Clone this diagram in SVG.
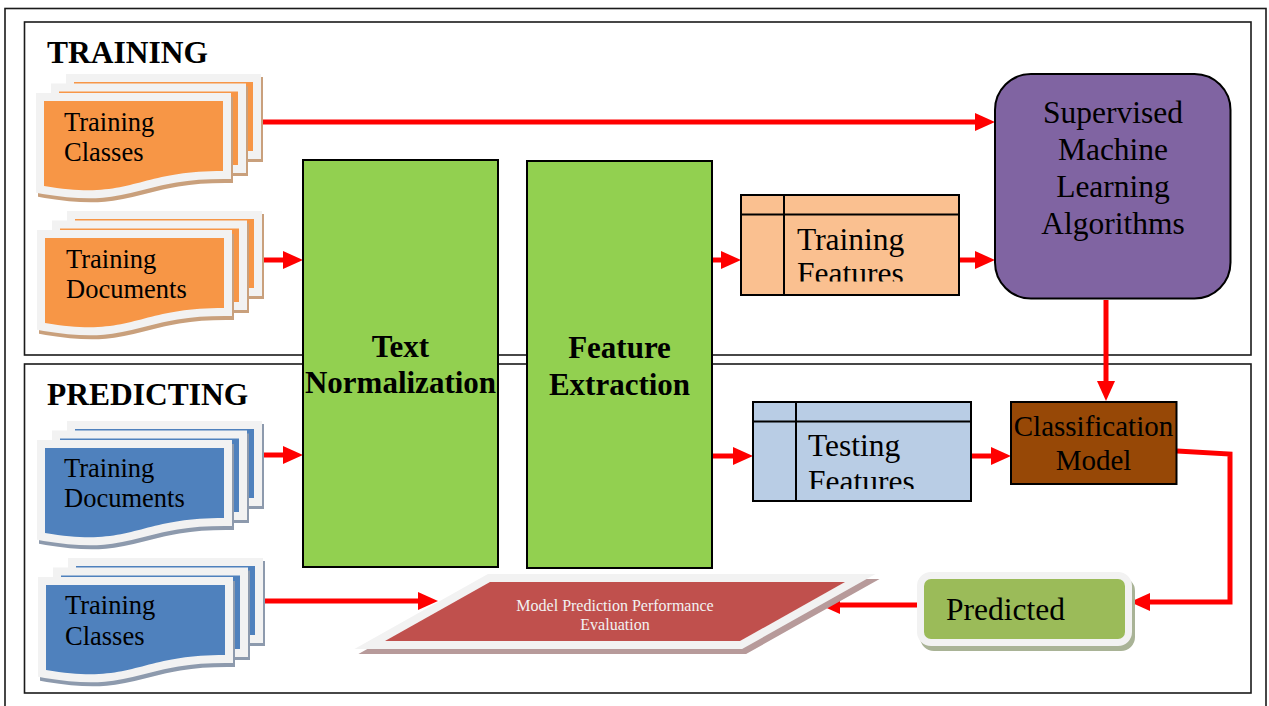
<svg xmlns="http://www.w3.org/2000/svg" xmlns:xlink="http://www.w3.org/1999/xlink" width="1269" height="706" viewBox="0 0 1269 706">
  <style>
    .frame { fill: none; stroke: #1a1a1a; stroke-width: 1.6; }
    .title { font-family: "Liberation Serif", "Times New Roman", serif; font-weight: bold; font-size: 31.5px; fill: #000; }
    .t { font-family: "Liberation Serif", "Times New Roman", serif; fill: #000; }
    .doc-t { font-size: 26.5px; }
    .big { font-size: 31.5px; }
    .mid { font-size: 29px; }
    .bold { font-weight: bold; font-size: 31px; }
    .light { font-family: "Liberation Serif", "Times New Roman", serif; font-size: 16px; fill: #f2f2f2; }
    .orange .pg { fill: #f79646; stroke: #f2f2f2; stroke-width: 16; paint-order: stroke; stroke-linejoin: miter; }
    .orange .sh { fill: #c9a07c; stroke: #c9a07c; stroke-width: 16; stroke-linejoin: miter; }
    .blue .pg { fill: #4f81bd; stroke: #f2f2f2; stroke-width: 16; paint-order: stroke; stroke-linejoin: miter; }
    .blue .sh { fill: #8d9aad; stroke: #8d9aad; stroke-width: 16; stroke-linejoin: miter; }
    .box { stroke: #000; stroke-width: 2; }
    .conn { fill: none; stroke: #ff0000; stroke-width: 5; stroke-linejoin: miter; marker-end: url(#ah); }
  </style>
  <defs>
    <marker id="ah" markerUnits="userSpaceOnUse" markerWidth="20" markerHeight="18" refX="0" refY="9" orient="auto" overflow="visible">
      <path d="M0,0 L20,9 L0,18 Z" fill="#ff0000"/>
    </marker>
    <!-- stacked document sheets, local origin = top-left of front sheet fill -->
    <rect id="docBack" x="30" y="-19" width="179" height="69"/>
    <rect id="docMid" x="15" y="-9.5" width="179" height="73.5"/>
    <path id="docFront" d="M0,0 H179 V70 C89.5,70 89.5,100 0,85 Z"/>
    <clipPath id="clipTrainF"><rect x="741" y="214" width="218" height="67.5"/></clipPath>
    <clipPath id="clipTestF"><rect x="753" y="421" width="218" height="68"/></clipPath>
  </defs>

  <!-- page frame and section panels -->
  <rect class="frame" x="5" y="8.5" width="1261" height="710"/>
  <rect class="frame" x="24.5" y="22" width="1226.5" height="333"/>
  <rect class="frame" x="24.5" y="364" width="1226.5" height="329"/>
  <text class="title" x="47" y="63">TRAINING</text>
  <text class="title" x="47" y="405">PREDICTING</text>

  <!-- connectors -->
  <g id="connectors">
    <path class="conn" d="M260,122 H975"/>
    <path class="conn" d="M262,260 H283"/>
    <path class="conn" d="M712,260 H721"/>
    <path class="conn" d="M959,260 H975"/>
    <path class="conn" d="M1106,300 V381"/>
    <path class="conn" d="M262,455 H283"/>
    <path class="conn" d="M712,456 H733"/>
    <path class="conn" d="M971,456 H991"/>
    <path class="conn" d="M1177,451 L1230,454 V602 H1150"/>
    <path class="conn" d="M917,605 H840"/>
    <path class="conn" d="M265,601 H418"/>
  </g>

  <!-- document stacks -->
  <g id="train-classes" class="orange" transform="translate(44,101)">
    <use href="#docBack" class="sh" x="2" y="3"/><use href="#docBack" class="pg"/>
    <use href="#docMid" class="sh" x="2" y="3"/><use href="#docMid" class="pg"/>
    <use href="#docFront" class="sh" x="2" y="4"/><use href="#docFront" class="pg"/>
    <text class="t doc-t" x="20" y="30">Training</text>
    <text class="t doc-t" x="20" y="60">Classes</text>
  </g>
  <g id="train-documents" class="orange" transform="translate(45,238)">
    <use href="#docBack" class="sh" x="2" y="3"/><use href="#docBack" class="pg"/>
    <use href="#docMid" class="sh" x="2" y="3"/><use href="#docMid" class="pg"/>
    <use href="#docFront" class="sh" x="2" y="4"/><use href="#docFront" class="pg"/>
    <text class="t doc-t" x="21" y="30">Training</text>
    <text class="t doc-t" x="21" y="60">Documents</text>
  </g>
  <g id="predict-documents" class="blue" transform="translate(45,448)">
    <use href="#docBack" class="sh" x="2" y="3"/><use href="#docBack" class="pg"/>
    <use href="#docMid" class="sh" x="2" y="3"/><use href="#docMid" class="pg"/>
    <use href="#docFront" class="sh" x="2" y="4"/><use href="#docFront" class="pg"/>
    <text class="t doc-t" x="19" y="29">Training</text>
    <text class="t doc-t" x="19" y="59">Documents</text>
  </g>
  <g id="predict-classes" class="blue" transform="translate(46,585)">
    <use href="#docBack" class="sh" x="2" y="3"/><use href="#docBack" class="pg"/>
    <use href="#docMid" class="sh" x="2" y="3"/><use href="#docMid" class="pg"/>
    <use href="#docFront" class="sh" x="2" y="4"/><use href="#docFront" class="pg"/>
    <text class="t doc-t" x="19" y="29">Training</text>
    <text class="t doc-t" x="19" y="60">Classes</text>
  </g>

  <!-- processing stages -->
  <g id="text-normalization">
    <rect class="box" x="303" y="160" width="195" height="407" fill="#92d050"/>
    <text class="t bold" x="400.5" y="357" text-anchor="middle">Text</text>
    <text class="t bold" x="400.5" y="393" text-anchor="middle">Normalization</text>
  </g>
  <g id="feature-extraction">
    <rect class="box" x="527" y="161" width="185" height="407" fill="#92d050"/>
    <text class="t bold" x="619.5" y="358" text-anchor="middle">Feature</text>
    <text class="t bold" x="619.5" y="395" text-anchor="middle">Extraction</text>
  </g>

  <g id="training-features">
    <rect class="box" x="741" y="195" width="218" height="100" fill="#fac090"/>
    <path d="M741,214.5 H959 M784,195 V295" stroke="#000" stroke-width="2" fill="none"/>
    <g clip-path="url(#clipTrainF)">
      <text class="t big" x="797" y="250">Training</text>
      <text class="t big" x="797" y="284">Features</text>
    </g>
  </g>
  <g id="testing-features">
    <rect class="box" x="753" y="402" width="218" height="99" fill="#b9cde5"/>
    <path d="M753,421.5 H971 M796,402 V501" stroke="#000" stroke-width="2" fill="none"/>
    <g clip-path="url(#clipTestF)">
      <text class="t big" x="808" y="456">Testing</text>
      <text class="t big" x="808" y="491.5">Features</text>
    </g>
  </g>

  <g id="supervised-ml">
    <rect class="box" x="995" y="74" width="235.5" height="224.5" rx="36" ry="36" fill="#8064a2"/>
    <text class="t big" x="1113" y="123" text-anchor="middle">Supervised</text>
    <text class="t big" x="1113" y="160" text-anchor="middle">Machine</text>
    <text class="t big" x="1113" y="197" text-anchor="middle">Learning</text>
    <text class="t big" x="1113" y="233.5" text-anchor="middle">Algorithms</text>
  </g>

  <g id="classification-model">
    <rect class="box" x="1011" y="402" width="165.5" height="82" fill="#974806"/>
    <text class="t mid" x="1093.5" y="436" text-anchor="middle">Classification</text>
    <text class="t mid" x="1093.5" y="470" text-anchor="middle">Model</text>
  </g>

  <g id="predicted">
    <rect x="927" y="584" width="201" height="60" rx="7" fill="#a9b396" stroke="#a9b396" stroke-width="14"/>
    <rect x="924" y="579" width="201" height="60" rx="7" fill="#9bbb59" stroke="#f2f2f2" stroke-width="14" paint-order="stroke"/>
    <text class="t big" x="946" y="620">Predicted</text>
  </g>

  <g id="performance-evaluation">
    <polygon points="494,587 849,587 744,646 389,646" fill="#b79a9a" stroke="#b79a9a" stroke-width="16" stroke-linejoin="miter"/>
    <polygon points="490,582 845,582 740,641 385,641" fill="#c0504d" stroke="#f2f2f2" stroke-width="16" stroke-linejoin="miter" paint-order="stroke"/>
    <text class="light" x="615" y="611" text-anchor="middle">Model Prediction Performance</text>
    <text class="light" x="615" y="630" text-anchor="middle">Evaluation</text>
  </g>
</svg>
